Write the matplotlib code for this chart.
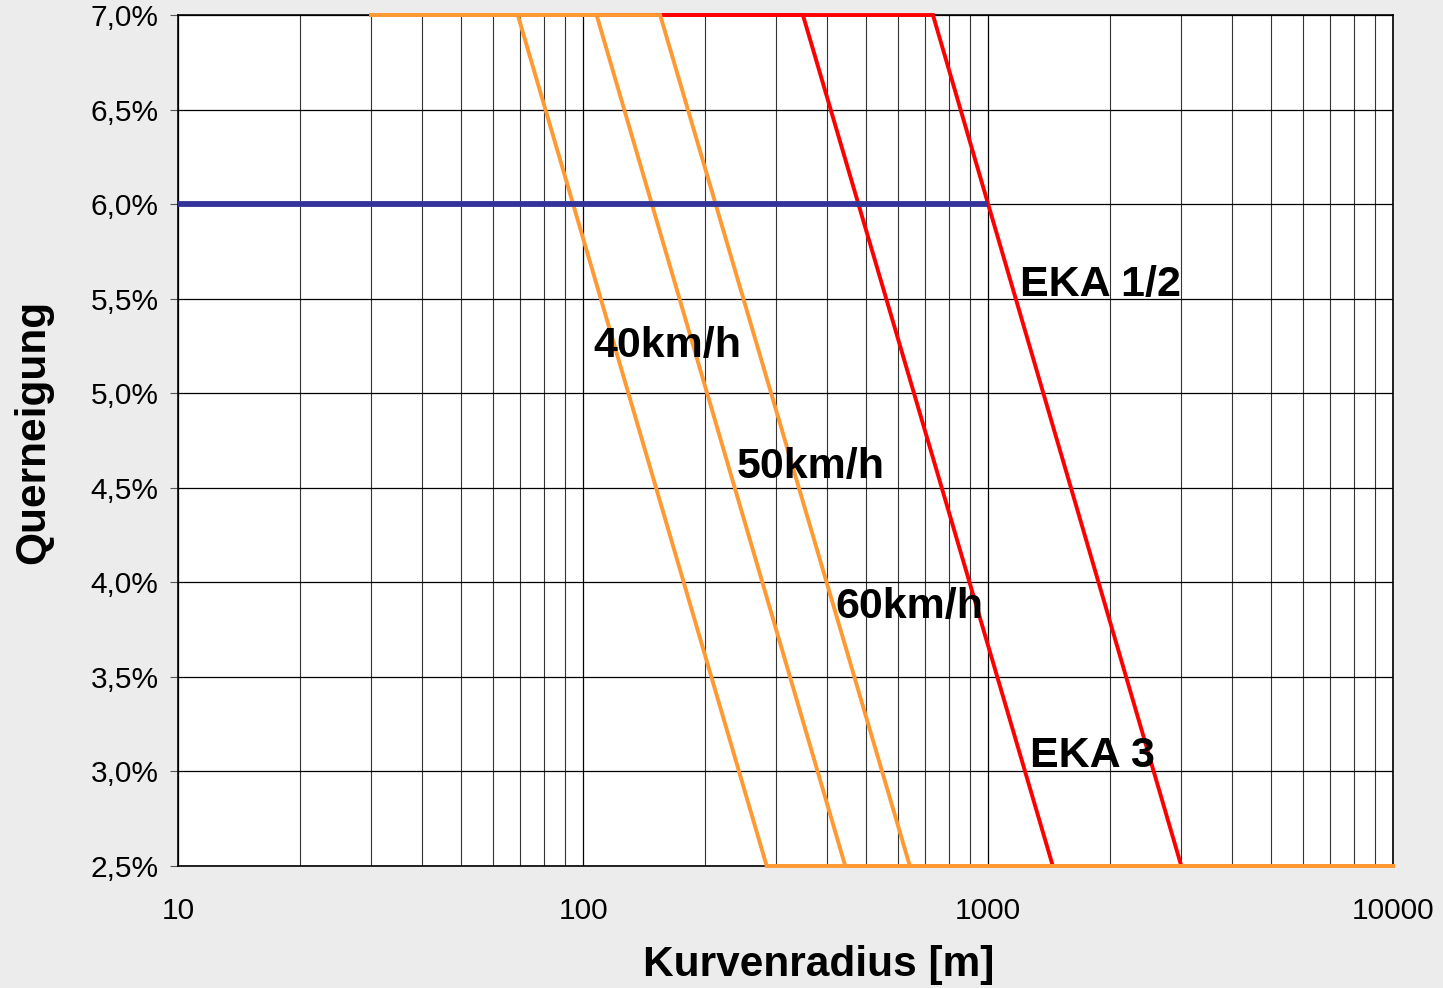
import matplotlib.pyplot as plt
import matplotlib.ticker as ticker
import numpy as np

plt.rcParams['font.family'] = ['Liberation Sans', 'DejaVu Sans']

# curve radius [m] break points and cross slope [%]
slope = [7.0, 7.0, 2.5, 2.5]
r_40 = [30, 69, 284, 10000]
r_50 = [30, 108, 444, 10000]
r_60 = [30, 155, 641, 10000]
r_eka3 = [30, 349, 1445, 10000]
r_eka12 = [30, 731, 3000, 10000]
r_max = [10, 1000]
slope_max = [6.0, 6.0]

orange = '#FF9933'
red = '#FF0000'
blue = '#333399'

fig = plt.figure(figsize=(14.43, 9.88), dpi=100, facecolor='#ececec')
ax = fig.add_axes([0.1234, 0.1235, 0.842, 0.8613])

# grid first
ax.set_xscale('log')
ax.set_xlim(10, 10000)
ax.set_ylim(2.5, 7.0)
ax.xaxis.set_major_locator(ticker.LogLocator(base=10, numticks=10))
ax.xaxis.set_minor_locator(ticker.LogLocator(base=10, subs=np.arange(2, 10), numticks=20))
ax.xaxis.set_minor_formatter(ticker.NullFormatter())
ax.xaxis.set_major_formatter(ticker.FuncFormatter(lambda v, p: '%d' % v))
ax.yaxis.set_major_locator(ticker.MultipleLocator(0.5))
ax.yaxis.set_major_formatter(ticker.FuncFormatter(lambda v, p: ('%.1f%%' % v).replace('.', ',')))
ax.grid(True, which='major', color='black', linewidth=0.9)
ax.grid(True, which='minor', axis='x', color='#333333', linewidth=0.8)
ax.set_axisbelow(True)

# red lines below, orange on top
ax.plot(r_eka12, slope, color=red, linewidth=2.8, solid_joinstyle='miter', zorder=3, clip_on=False)
ax.plot(r_eka3, slope, color=red, linewidth=2.8, solid_joinstyle='miter', zorder=3, clip_on=False)
for r in [r_60, r_50, r_40]:
    ax.plot(r, slope, color=orange, linewidth=2.8, solid_joinstyle='miter', zorder=4, clip_on=False)
ax.plot(r_max, slope_max, color=blue, linewidth=4.2, solid_capstyle='butt', zorder=5)

# labels in the chart
lab = dict(fontsize=31, fontweight='bold', va='center', ha='left', zorder=6)
ax.text(106, 5.25, '40km/h', **lab)
ax.text(240, 4.61, '50km/h', **lab)
ax.text(419, 3.87, '60km/h', **lab)
ax.text(1199, 5.57, 'EKA 1/2', **lab)
ax.text(1270, 3.08, 'EKA 3', **lab)

ax.tick_params(axis='y', which='major', length=6, color='#555555', labelsize=21.5, pad=8)
ax.tick_params(axis='x', which='both', length=0, labelsize=21.5, pad=22)
for s in ax.spines.values():
    s.set_linewidth(1.2)
    s.set_color('black')

ax.set_xlabel('Kurvenradius [m]', fontsize=30.5, fontweight='bold')
ax.xaxis.set_label_coords((819 - 178) / 1215, -(965 - 866) / 851)
ax.xaxis.label.set_va('center')
ax.set_ylabel('Querneigung', fontsize=30.5, fontweight='bold')
ax.yaxis.set_label_coords(-(178 - 33) / 1215, (866 - 432) / 851)
ax.yaxis.label.set_va('center')

plt.savefig('out.png', dpi=100, facecolor=fig.get_facecolor())
